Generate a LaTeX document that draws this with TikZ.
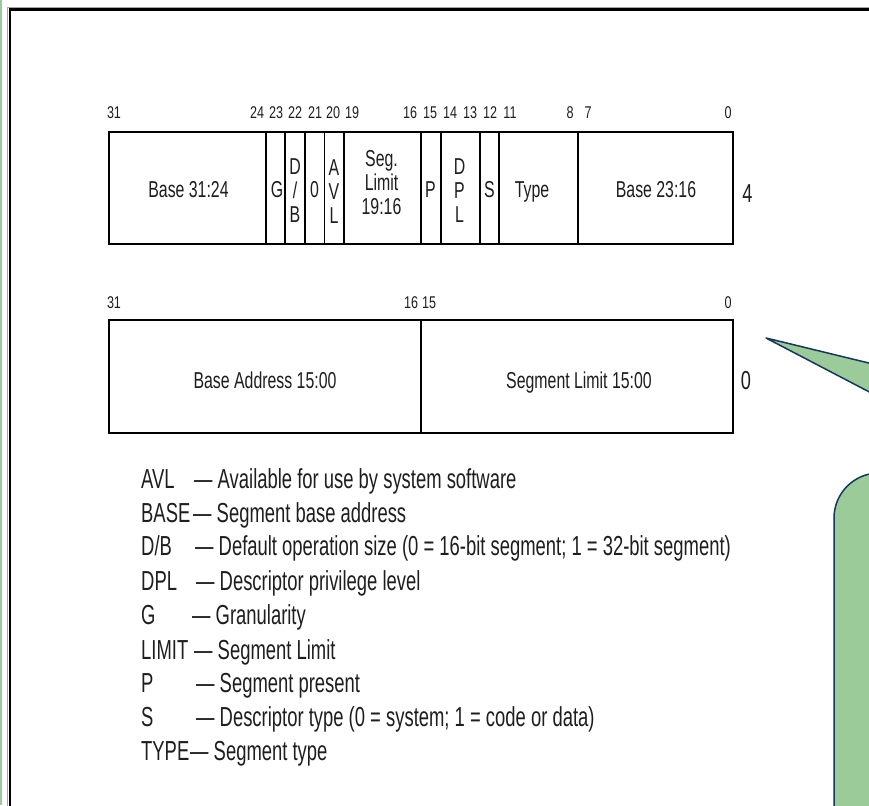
\documentclass[tikz,border=0pt]{standalone}
\usepackage{fontspec}
\setmainfont{Liberation Sans}
\newfontfamily\fieldf[FakeStretch=0.69]{Liberation Sans}
\newfontfamily\bitf[FakeStretch=0.74]{Liberation Sans}
\newfontfamily\rowf[FakeStretch=0.70]{Liberation Sans}
\newfontfamily\legf[FakeStretch=0.67]{Liberation Sans}
\definecolor{callgreen}{RGB}{155,203,152}
\definecolor{callblue}{RGB}{22,54,96}
\definecolor{txt}{RGB}{30,30,30}
\tikzset{
  field/.style={font=\fieldf\fontsize{23}{24}\selectfont, text=txt, align=center, inner sep=0pt},
  fieldb/.style={field, anchor=base},
  bitnum/.style={font=\bitf\fontsize{17}{17}\selectfont, text=txt, inner sep=0pt, anchor=base},
  rowno/.style={font=\rowf\fontsize{26}{26}\selectfont, text=txt, inner sep=0pt, anchor=base},
  legend/.style={font=\legf\fontsize{27.5}{27.5}\selectfont, text=txt, inner sep=0pt, anchor=base west},
  regbox/.style={draw=black, line width=2pt},
  divider/.style={draw=black, line width=1.6pt},
  callout/.style={fill=callgreen, draw=callblue, line width=1.5pt, line join=round},
}
\begin{document}
\begin{tikzpicture}[x=1pt,y=-1pt]
\useasboundingbox (0,0) rectangle (869,805);
\fill[white] (0,0) rectangle (869,805);
\begin{scope}
  \clip (0,0) rectangle (869,805);
  \fill[callgreen] (0,0) rectangle (2.4,805);
  \draw[black!35, line width=1pt] (7.4,7.4) rectangle (1000,1000);
  \draw[black, line width=2.6pt] (9.8,9.8) rectangle (1000,1000);
  \coordinate (tip) at (766,338);
  \filldraw[callout] (tip) -- (900,370.6) -- (900,408) -- cycle;
  \filldraw[callout, rounded corners=45pt] (834,473) rectangle (1000,1000);
\end{scope}

% ---------- upper double word ----------
\draw[regbox] (108.5,132) rectangle (732.5,244);
\foreach \x in {266,285,305,324.5,344,421,441,480,499,578}
  \draw[divider] (\x,132) -- (\x,244);

\node[bitnum] (t31) at (114,118.3) {31};
\node[bitnum] (t24) at (257,118.3) {24};
\node[bitnum] (t23) at (276,118.3) {23};
\node[bitnum] (t22) at (295,118.3) {22};
\node[bitnum] (t21) at (315,118.3) {21};
\node[bitnum] (t20) at (333,118.3) {20};
\node[bitnum] (t19) at (352,118.3) {19};
\node[bitnum] (t16) at (410,118.3) {16};
\node[bitnum] (t15) at (430,118.3) {15};
\node[bitnum] (t14) at (450,118.3) {14};
\node[bitnum] (t13) at (470,118.3) {13};
\node[bitnum] (t12) at (490,118.3) {12};
\node[bitnum] (t11) at (510,118.3) {11};
\node[bitnum] (t8)  at (570,118.3) {8};
\node[bitnum] (t7)  at (588,118.3) {7};
\node[bitnum] (t0)  at (728,118.3) {0};

\node[fieldb] (base3124) at (188.5,197.5) {Base 31:24};
\node[fieldb] (g) at (277,197.5) {G};
\node[field] (db) at (295,191) {D\\/\\B};
\node[fieldb] (zero) at (314.5,197.5) {0};
\node[field] (avl) at (334,192) {A\\V\\L};
\node[field] (seglim) at (381.5,183) {Seg.\\Limit\\19:16};
\node[fieldb] (p) at (430.5,197.5) {P};
\node[field] (dpl) at (459.5,191) {D\\P\\L};
\node[fieldb] (s) at (489.5,197.5) {S};
\node[fieldb] (type) at (532,197.5) {Type};
\node[fieldb] (base2316) at (656,197.5) {Base 23:16};
\node[rowno] (row4) at (747.5,202) {4};

% ---------- lower double word ----------
\draw[regbox] (108.5,320) rectangle (732.5,432.5);
\draw[divider] (421,320) -- (421,432.5);

\node[bitnum] (b31) at (114,308) {31};
\node[bitnum] (b16) at (411,308) {16};
\node[bitnum] (b15) at (429,308) {15};
\node[bitnum] (b0)  at (728,308) {0};

\node[fieldb] (baseaddr) at (265,388) {Base Address 15:00};
\node[fieldb] (seglimit) at (579,388) {Segment Limit 15:00};
\node[rowno] (row0) at (746,389) {0};

% ---------- legend ----------
\node[legend] (k1) at (141,488) {AVL};
\node[legend] (v1) at (194,488) {— Available for use by system software};
\node[legend] (k2) at (141,522) {BASE};
\node[legend] (v2) at (193,522) {— Segment base address};
\node[legend] (k3) at (141,555.5) {D/B};
\node[legend] (v3) at (195,555.5) {— Default operation size (0 = 16-bit segment; 1 = 32-bit segment)};
\node[legend] (k4) at (141,590) {DPL};
\node[legend] (v4) at (196,590) {— Descriptor privilege level};
\node[legend] (k5) at (141,624.5) {G};
\node[legend] (v5) at (192,624.5) {— Granularity};
\node[legend] (k6) at (141,659) {LIMIT};
\node[legend] (v6) at (194,659) {— Segment Limit};
\node[legend] (k7) at (141,692.5) {P};
\node[legend] (v7) at (196,692.5) {— Segment present};
\node[legend] (k8) at (141,726.5) {S};
\node[legend] (v8) at (196,726.5) {— Descriptor type (0 = system; 1 = code or data)};
\node[legend] (k9) at (141,760) {TYPE};
\node[legend] (v9) at (190,760) {— Segment type};
\end{tikzpicture}
\end{document}
